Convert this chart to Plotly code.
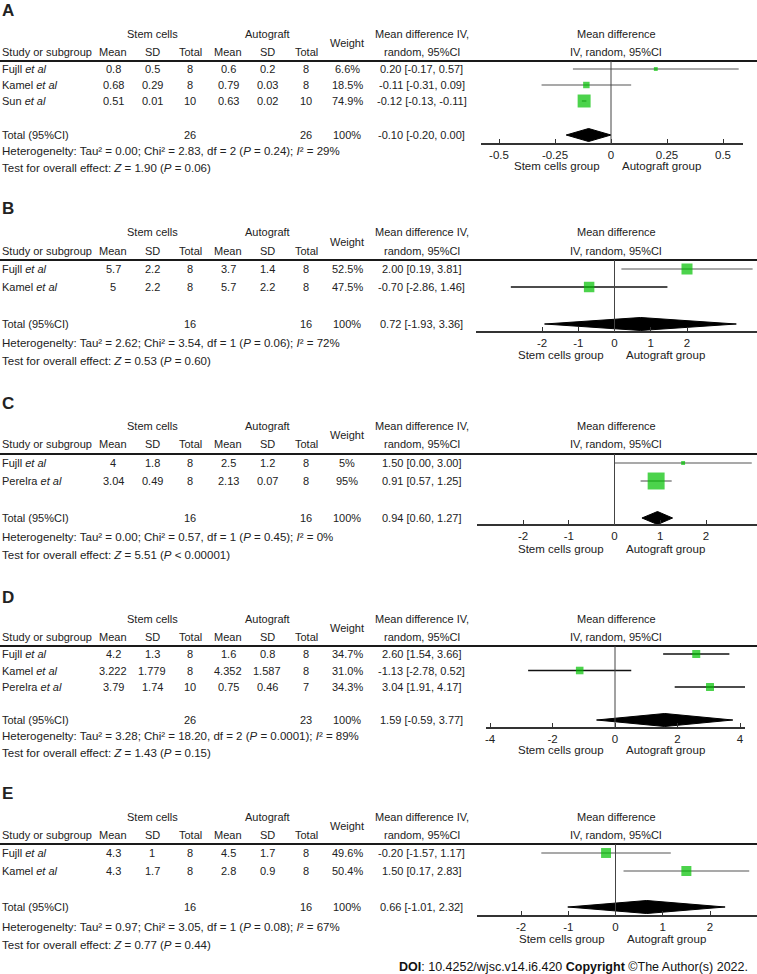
import math
import plotly.graph_objects as go

# ---------------- data ----------------
panels = ["A", "B", "C", "D", "E"]
studies = [["Fujll", "Kamel", "Sun"], ["Fujll", "Kamel"], ["Fujll", "Perelra"],
           ["Fujll", "Kamel", "Perelra"], ["Fujll", "Kamel"]]
stem_mean = [[0.8, 0.68, 0.51], [5.7, 5], [4, 3.04], [4.2, 3.222, 3.79], [4.3, 4.3]]
stem_sd = [[0.5, 0.29, 0.01], [2.2, 2.2], [1.8, 0.49], [1.3, 1.779, 1.74], [1, 1.7]]
stem_n = [[8, 8, 10], [8, 8], [8, 8], [8, 8, 10], [8, 8]]
auto_mean = [[0.6, 0.79, 0.63], [3.7, 5.7], [2.5, 2.13], [1.6, 4.352, 0.75], [4.5, 2.8]]
auto_sd = [[0.2, 0.03, 0.02], [1.4, 2.2], [1.2, 0.07], [0.8, 1.587, 0.46], [1.7, 0.9]]
auto_n = [[8, 8, 10], [8, 8], [8, 8], [8, 8, 7], [8, 8]]
weight = [[6.6, 18.5, 74.9], [52.5, 47.5], [5, 95], [34.7, 31.0, 34.3], [49.6, 50.4]]
weight_decimals = [1, 1, 0, 1, 1]
md = [[0.20, -0.11, -0.12], [2.00, -0.70], [1.50, 0.91], [2.60, -1.13, 3.04], [-0.20, 1.50]]
ci_lo = [[-0.17, -0.31, -0.13], [0.19, -2.86], [0.00, 0.57], [1.54, -2.78, 1.91], [-1.57, 0.17]]
ci_hi = [[0.57, 0.09, -0.11], [3.81, 1.46], [3.00, 1.25], [3.66, 0.52, 4.17], [1.17, 2.83]]
pooled_md = [-0.10, 0.72, 0.94, 1.59, 0.66]
pooled_lo = [-0.20, -1.93, 0.60, -0.59, -1.01]
pooled_hi = [0.00, 3.36, 1.27, 3.77, 2.32]
tau2 = ["0.00", "2.62", "0.00", "3.28", "0.97"]
chi2 = ["2.83", "3.54", "0.57", "18.20", "3.05"]
het_df = [2, 1, 1, 2, 1]
het_p = ["= 0.24", "= 0.06", "= 0.45", "= 0.0001", "= 0.08"]
i2 = [29, 72, 0, 89, 67]
z_val = ["1.90", "0.53", "5.51", "1.43", "0.77"]
z_p = ["= 0.06", "= 0.60", "< 0.00001", "= 0.15", "= 0.44"]
tick_vals = [[-0.5, -0.25, 0, 0.25, 0.5], [-2, -1, 0, 1, 2], [-2, -1, 0, 1, 2],
             [-4, -2, 0, 2, 4], [-2, -1, 0, 1, 2]]
tick_text = [["-0.5", "-0.25", "0", "0.25", "0.5"], ["-2", "-1", "0", "1", "2"],
             ["-2", "-1", "0", "1", "2"], ["-4", "-2", "0", "2", "4"], ["-2", "-1", "0", "1", "2"]]

# ---------------- layout / style ----------------
W, H = 757, 974
FONT = "Liberation Sans, Arial, sans-serif"
TXT = "#222222"
FS = 11
FS_NOTE = 11.5
GREEN = "#00c000"
GREY = "#8c8c8c"
DARK = "#111111"
# label, head1, head2, sep, first row, row step, total, het, test, axis, group label
panel_y = [
    (10, 34, 52, 61, 69, 16, 135, 151, 168, 144, 166),
    (208, 232, 251, 260, 269, 18, 324, 343, 361, 332, 355),
    (403, 426, 444, 454, 463, 18, 518, 537, 555, 525, 549),
    (597, 619, 637, 646, 654, 16.5, 720, 736, 753, 728, 750),
    (793, 817, 835, 844, 853, 18, 907, 927, 945, 916, 939),
]
forest_px = [(481, 743), (476, 757), (477, 757), (486, 745), (477, 757)]
zero_px = [611, 614.5, 614.5, 615, 615.5]
unit_px = [224, 36.25, 45.75, 31.25, 47.25]
marker_k = [1.5, 1.52, 1.74, 1.36, 1.41]
ci_colors = [[GREY] * 3, [GREY, DARK], [GREY] * 2, [DARK] * 3, [GREY] * 2]
col_x = [113, 152, 190, 228, 267, 306, 347, 422]
diamond_half = 6.5

fig = go.Figure()
annotations = []
shapes = []


def txt(x_px, y_px, text, anchor="center", size=FS, **kw):
    annotations.append(dict(x=x_px / W, y=y_px, xref="paper", yref="y", text=text,
                            showarrow=False, xanchor=anchor, yanchor="middle",
                            font=dict(family=FONT, size=size, color=TXT), **kw))


def fmt(v):
    return f"{v:g}"


for p, name in enumerate(panels):
    (ly, h1, h2, sep, r0, step, ty, hy, tsy, axy, gy) = panel_y[p]
    xa = "x" if p == 0 else f"x{p + 1}"
    axname = "xaxis" if p == 0 else f"xaxis{p + 1}"
    rows = [r0 + i * step for i in range(len(studies[p]))]

    # panel label
    txt(0, ly, f"<b>{name}</b>", anchor="left", size=17)
    # headers
    txt(col_x[1], h1, "Stem cells")
    txt(col_x[4], h1, "Autograft")
    txt(col_x[6], (h1 + h2) / 2, "Weight")
    txt(col_x[7], h1, "Mean difference IV,")
    txt(col_x[7], h2, "random, 95%CI")
    txt(616, h1, "Mean difference")
    txt(616, h2, "IV, random, 95%CI")
    txt(0, h2, "Study or subgroup", anchor="left")
    for c, lab in enumerate(["Mean", "SD", "Total", "Mean", "SD", "Total"]):
        txt(col_x[c], h2, lab)
    shapes.append(dict(type="line", xref="paper", yref="y", x0=0, x1=1, y0=sep, y1=sep,
                       line=dict(color="#1a1a1a", width=2)))

    # study rows
    for i, st in enumerate(studies[p]):
        y = rows[i]
        txt(0, y, f"{st} <i>et al</i>", anchor="left")
        vals = [stem_mean[p][i], stem_sd[p][i], stem_n[p][i],
                auto_mean[p][i], auto_sd[p][i], auto_n[p][i]]
        for c, v in enumerate(vals):
            txt(col_x[c], y, fmt(v))
        txt(col_x[6], y, f"{weight[p][i]:.{weight_decimals[p]}f}%")
        txt(col_x[7], y, f"{md[p][i]:.2f} [{ci_lo[p][i]:.2f}, {ci_hi[p][i]:.2f}]")
        fig.add_trace(go.Scatter(x=[ci_lo[p][i], ci_hi[p][i]], y=[y, y], mode="lines",
                                 line=dict(color=ci_colors[p][i], width=1.6),
                                 xaxis=xa, yaxis="y", hoverinfo="skip", showlegend=False,
                                 cliponaxis=False))
    sizes = [max(3, marker_k[p] * math.sqrt(w)) for w in weight[p]]
    fig.add_trace(go.Scatter(x=md[p], y=rows, mode="markers",
                             marker=dict(symbol="square", size=sizes, color=GREEN,
                                         line=dict(width=0)),
                             xaxis=xa, yaxis="y", showlegend=False, cliponaxis=False,
                             hoverinfo="skip"))

    # totals
    txt(0, ty, "Total (95%CI)", anchor="left")
    txt(col_x[2], ty, str(sum(stem_n[p])))
    txt(col_x[5], ty, str(sum(auto_n[p])))
    txt(col_x[6], ty, "100%")
    txt(col_x[7], ty, f"{pooled_md[p]:.2f} [{pooled_lo[p]:.2f}, {pooled_hi[p]:.2f}]")
    fig.add_trace(go.Scatter(
        x=[pooled_lo[p], pooled_md[p], pooled_hi[p], pooled_md[p], pooled_lo[p]],
        y=[ty, ty - diamond_half, ty, ty + diamond_half, ty],
        mode="lines", fill="toself", fillcolor="black", line=dict(color="black", width=1),
        xaxis=xa, yaxis="y", showlegend=False, hoverinfo="skip"))

    txt(0, hy, f"Heterogenelty: Tau² = {tau2[p]}; Chi² = {chi2[p]}, "
               f"df = {het_df[p]} (<i>P</i> {het_p[p]}); <i>I</i>² = {i2[p]}%",
        anchor="left", size=FS_NOTE)
    txt(0, tsy, f"Test for overall effect: <i>Z</i> = {z_val[p]} (<i>P</i> {z_p[p]})",
        anchor="left", size=FS_NOTE)

    # forest axis
    x0, x1 = forest_px[p]
    rng = [(x0 - zero_px[p]) / unit_px[p], (x1 - zero_px[p]) / unit_px[p]]
    fig.update_layout(**{axname: dict(
        domain=[x0 / W, x1 / W], range=rng, anchor="free", position=1 - axy / H,
        showline=True, linecolor="#333333", linewidth=1.5, ticks="inside", ticklen=4,
        tickcolor="#333333", tickwidth=1, tickvals=tick_vals[p], ticktext=tick_text[p],
        showgrid=False, zeroline=False, fixedrange=True,
        tickfont=dict(family=FONT, size=FS_NOTE, color=TXT))})
    shapes.append(dict(type="line", xref=xa, yref="y", x0=0, x1=0, y0=sep, y1=axy,
                       line=dict(color="#444444", width=1)))
    annotations.append(dict(x=0, y=gy, xref=xa, yref="y", text="Stem cells group",
                            showarrow=False, xanchor="right", xshift=-9,
                            font=dict(family=FONT, size=FS_NOTE, color=TXT)))
    annotations.append(dict(x=0, y=gy, xref=xa, yref="y", text="Autograft group",
                            showarrow=False, xanchor="left", xshift=9,
                            font=dict(family=FONT, size=FS_NOTE, color=TXT)))

annotations.append(dict(x=750 / W, y=967, xref="paper", yref="y", showarrow=False,
                        xanchor="right", yanchor="middle",
                        text="<b>DOI</b>: 10.4252/wjsc.v14.i6.420 <b>Copyright</b> ©The Author(s) 2022.",
                        font=dict(family=FONT, size=12.5, color="#111111")))

fig.update_layout(
    width=W, height=H, margin=dict(l=0, r=0, t=0, b=0),
    paper_bgcolor="white", plot_bgcolor="rgba(0,0,0,0)",
    yaxis=dict(domain=[0, 1], range=[H, 0], visible=False, fixedrange=True),
    annotations=annotations, shapes=shapes, showlegend=False,
)
fig.write_html("out.html", config={"displayModeBar": False},
               post_script="document.body.style.margin='0';document.body.style.padding='0';")
